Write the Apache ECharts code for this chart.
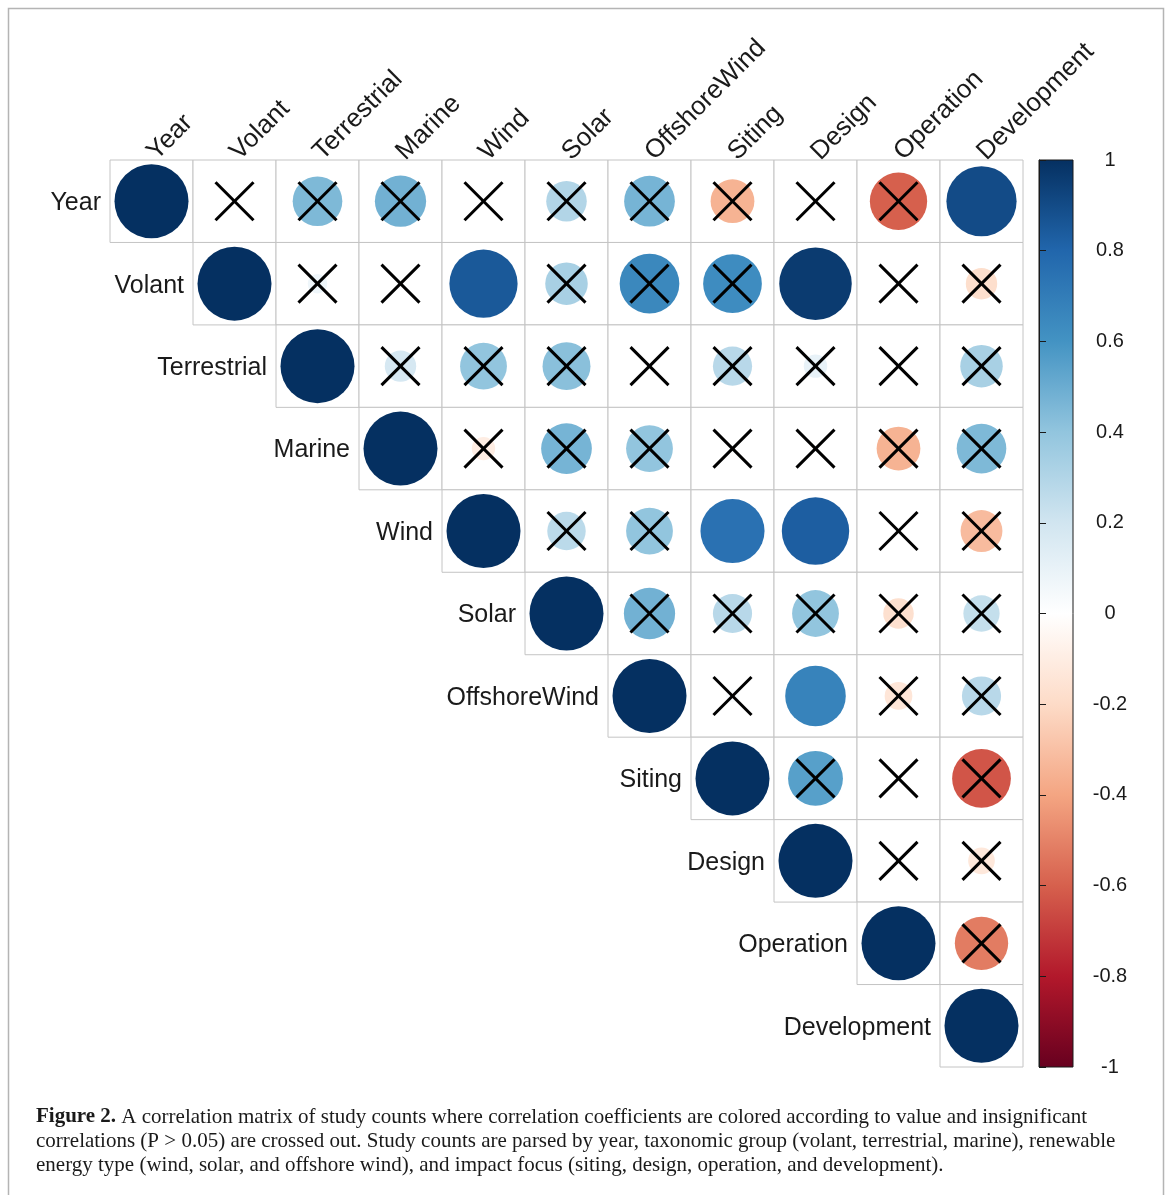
<!DOCTYPE html>
<html>
<head>
<meta charset="utf-8">
<script src="https://cdn.jsdelivr.net/npm/echarts@6/dist/echarts.min.js"></script>
<style>
  html, body { margin: 0; padding: 0; background: #fff; }
  #chart { width: 1168px; height: 1195px; }
</style>
</head>
<body>
<div id="chart"></div>
<script>
// variable names, also used as column / row labels
var labels = ['Year', 'Volant', 'Terrestrial', 'Marine', 'Wind', 'Solar',
  'OffshoreWind', 'Siting', 'Design', 'Operation', 'Development'];

// upper triangle, each row starts at the diagonal
var rowYear = [1, 0, 0.45, 0.48, 0.01, 0.3, 0.47, -0.35, 0.01, -0.6, 0.9];
var rowVolant = [1, 0.07, 0.01, 0.85, 0.33, 0.65, 0.63, 0.96, 0.01, -0.18];
var rowTerrestrial = [1, 0.18, 0.4, 0.42, 0.01, 0.28, 0.1, 0.01, 0.33];
var rowMarine = [1, -0.1, 0.47, 0.4, 0.01, 0.01, -0.35, 0.45];
var rowWind = [1, 0.27, 0.4, 0.75, 0.83, 0.01, -0.32];
var rowSolar = [1, 0.48, 0.28, 0.4, -0.17, 0.24];
var rowOffshoreWind = [1, 0.03, 0.67, -0.14, 0.28];
var rowSiting = [1, 0.55, 0.01, -0.63];
var rowDesign = [1, 0.01, -0.13];
var rowOperation = [1, -0.52];
var rowDevelopment = [1];

// pairs that are NOT crossed out (P <= 0.05), diagonal excluded
var significantPairs = [
  ['Year', 'Development'], ['Volant', 'Wind'], ['Volant', 'Design'],
  ['Wind', 'Siting'], ['Wind', 'Design'], ['OffshoreWind', 'Design']
];

// colorbar ticks
var barMin = -1, barMax = 1, barStep = 0.2;

var rdbu = ['#67001F', '#B2182B', '#D6604D', '#F4A582', '#FDDBC7', '#FFFFFF',
  '#D1E5F0', '#92C5DE', '#4393C3', '#2166AC', '#053061'];

var rows = [rowYear, rowVolant, rowTerrestrial, rowMarine, rowWind, rowSolar,
  rowOffshoreWind, rowSiting, rowDesign, rowOperation, rowDevelopment];

function isSignificant(a, b) {
  return significantPairs.some(function (p) {
    return (p[0] === a && p[1] === b) || (p[0] === b && p[1] === a);
  });
}

var cellData = [], circleData = [], crossData = [], rowLabelData = [];
rows.forEach(function (vals, i) {
  rowLabelData.push([i, i]);
  vals.forEach(function (v, k) {
    var j = i + k;
    cellData.push([j, i]);
    circleData.push([j, i, v]);
    if (i !== j && !isSignificant(labels[i], labels[j])) crossData.push([j, i]);
  });
});

var myChart = echarts.init(document.getElementById('chart'));
var fontSans = '"Liberation Sans", Arial, sans-serif';
var fontSerif = '"Liberation Serif", "Times New Roman", serif';

var option = {
  backgroundColor: '#fff',
  animation: false,
  grid: [
    { left: 110, top: 160, width: 913, height: 907 },
    {
      left: 1039, top: 160, width: 34, height: 907, show: true,
      backgroundColor: new echarts.graphic.LinearGradient(0, 0, 0, 1,
        rdbu.slice().reverse().map(function (c, idx) {
          return { offset: idx / (rdbu.length - 1), color: c };
        })),
      borderColor: '#1a1a1a', borderWidth: 1
    }
  ],
  xAxis: [
    {
      type: 'category', gridIndex: 0, data: labels, position: 'top',
      axisLine: { show: false }, axisTick: { show: false }, splitLine: { show: false },
      axisLabel: {
        interval: 0, rotate: -45, margin: 4, fontSize: 26, color: '#1a1a1a',
        fontFamily: fontSans
      }
    },
    { type: 'value', gridIndex: 1, show: false, min: 0, max: 1 }
  ],
  yAxis: [
    {
      type: 'category', gridIndex: 0, data: labels, inverse: true, show: false
    },
    {
      type: 'value', gridIndex: 1, position: 'right', min: barMin, max: barMax,
      interval: barStep,
      axisLine: { show: true, lineStyle: { color: '#1a1a1a', width: 1 } },
      axisTick: { show: true, length: 7, lineStyle: { color: '#1a1a1a' } },
      splitLine: { show: false },
      axisLabel: {
        fontSize: 20, color: '#1a1a1a', fontFamily: fontSans, align: 'center', margin: 37,
        padding: [3, 0, 0, 0],
        formatter: function (v) { return String(Math.round(v * 10) / 10); }
      }
    }
  ],
  visualMap: {
    type: 'continuous', show: false, min: barMin, max: barMax, dimension: 2,
    seriesIndex: 1, inRange: { color: rdbu }
  },
  series: [
    {
      // cell borders for the upper triangle
      type: 'custom', xAxisIndex: 0, yAxisIndex: 0, z: 1, silent: true,
      data: cellData,
      renderItem: function (params, api) {
        var p = api.coord([api.value(0), api.value(1)]);
        var s = api.size([1, 1]);
        return {
          type: 'rect',
          shape: { x: p[0] - s[0] / 2, y: p[1] - s[1] / 2, width: s[0], height: s[1] },
          style: { fill: '#fff', stroke: '#c4c4c4', lineWidth: 1 }
        };
      }
    },
    {
      // circles, area proportional to |r|
      type: 'scatter', xAxisIndex: 0, yAxisIndex: 0, z: 2,
      data: circleData,
      symbol: 'circle',
      itemStyle: { opacity: 1 },
      symbolSize: function (val) { return 74 * Math.sqrt(Math.abs(val[2])); }
    },
    {
      // crosses for insignificant correlations
      type: 'custom', xAxisIndex: 0, yAxisIndex: 0, z: 3, silent: true,
      data: crossData,
      renderItem: function (params, api) {
        var p = api.coord([api.value(0), api.value(1)]);
        var h = 19;
        var st = { stroke: '#000', lineWidth: 3 };
        return {
          type: 'group',
          children: [
            { type: 'line', shape: { x1: p[0] - h, y1: p[1] - h, x2: p[0] + h, y2: p[1] + h }, style: st },
            { type: 'line', shape: { x1: p[0] - h, y1: p[1] + h, x2: p[0] + h, y2: p[1] - h }, style: st }
          ]
        };
      }
    },
    {
      // row labels, placed left of the diagonal cell
      type: 'scatter', xAxisIndex: 0, yAxisIndex: 0, z: 4, silent: true,
      data: rowLabelData, symbolSize: 1,
      itemStyle: { color: 'rgba(0,0,0,0)', opacity: 1 },
      label: {
        show: true, position: 'left', distance: 50, offset: [0, 2], fontSize: 25,
        color: '#1a1a1a', opacity: 1, fontFamily: fontSans,
        formatter: function (p) { return labels[p.value[1]]; }
      }
    }
  ],
  graphic: [
    {
      type: 'rect', silent: true,
      shape: { x: 8.5, y: 8.5, width: 1155, height: 1210 },
      style: { fill: 'none', stroke: '#b4b4b4', lineWidth: 1.5 }
    },
    {
      type: 'text', left: 36, top: 1105, silent: true,
      style: {
        text: '{b|Figure 2.} A correlation matrix of study counts where correlation coefficients are colored according to value and insignificant\n' +
          'correlations (P > 0.05) are crossed out. Study counts are parsed by year, taxonomic group (volant, terrestrial, marine), renewable\n' +
          'energy type (wind, solar, and offshore wind), and impact focus (siting, design, operation, and development).',
        fontSize: 21, fontFamily: fontSerif, fill: '#1a1a1a', lineHeight: 24,
        rich: {
          b: { fontWeight: 'bold', fontSize: 21, fontFamily: fontSerif, fill: '#1a1a1a', lineHeight: 24 }
        }
      }
    }
  ]
};

myChart.setOption(option);
window.addEventListener('resize', function () { myChart.resize(); });
</script>
</body>
</html>
